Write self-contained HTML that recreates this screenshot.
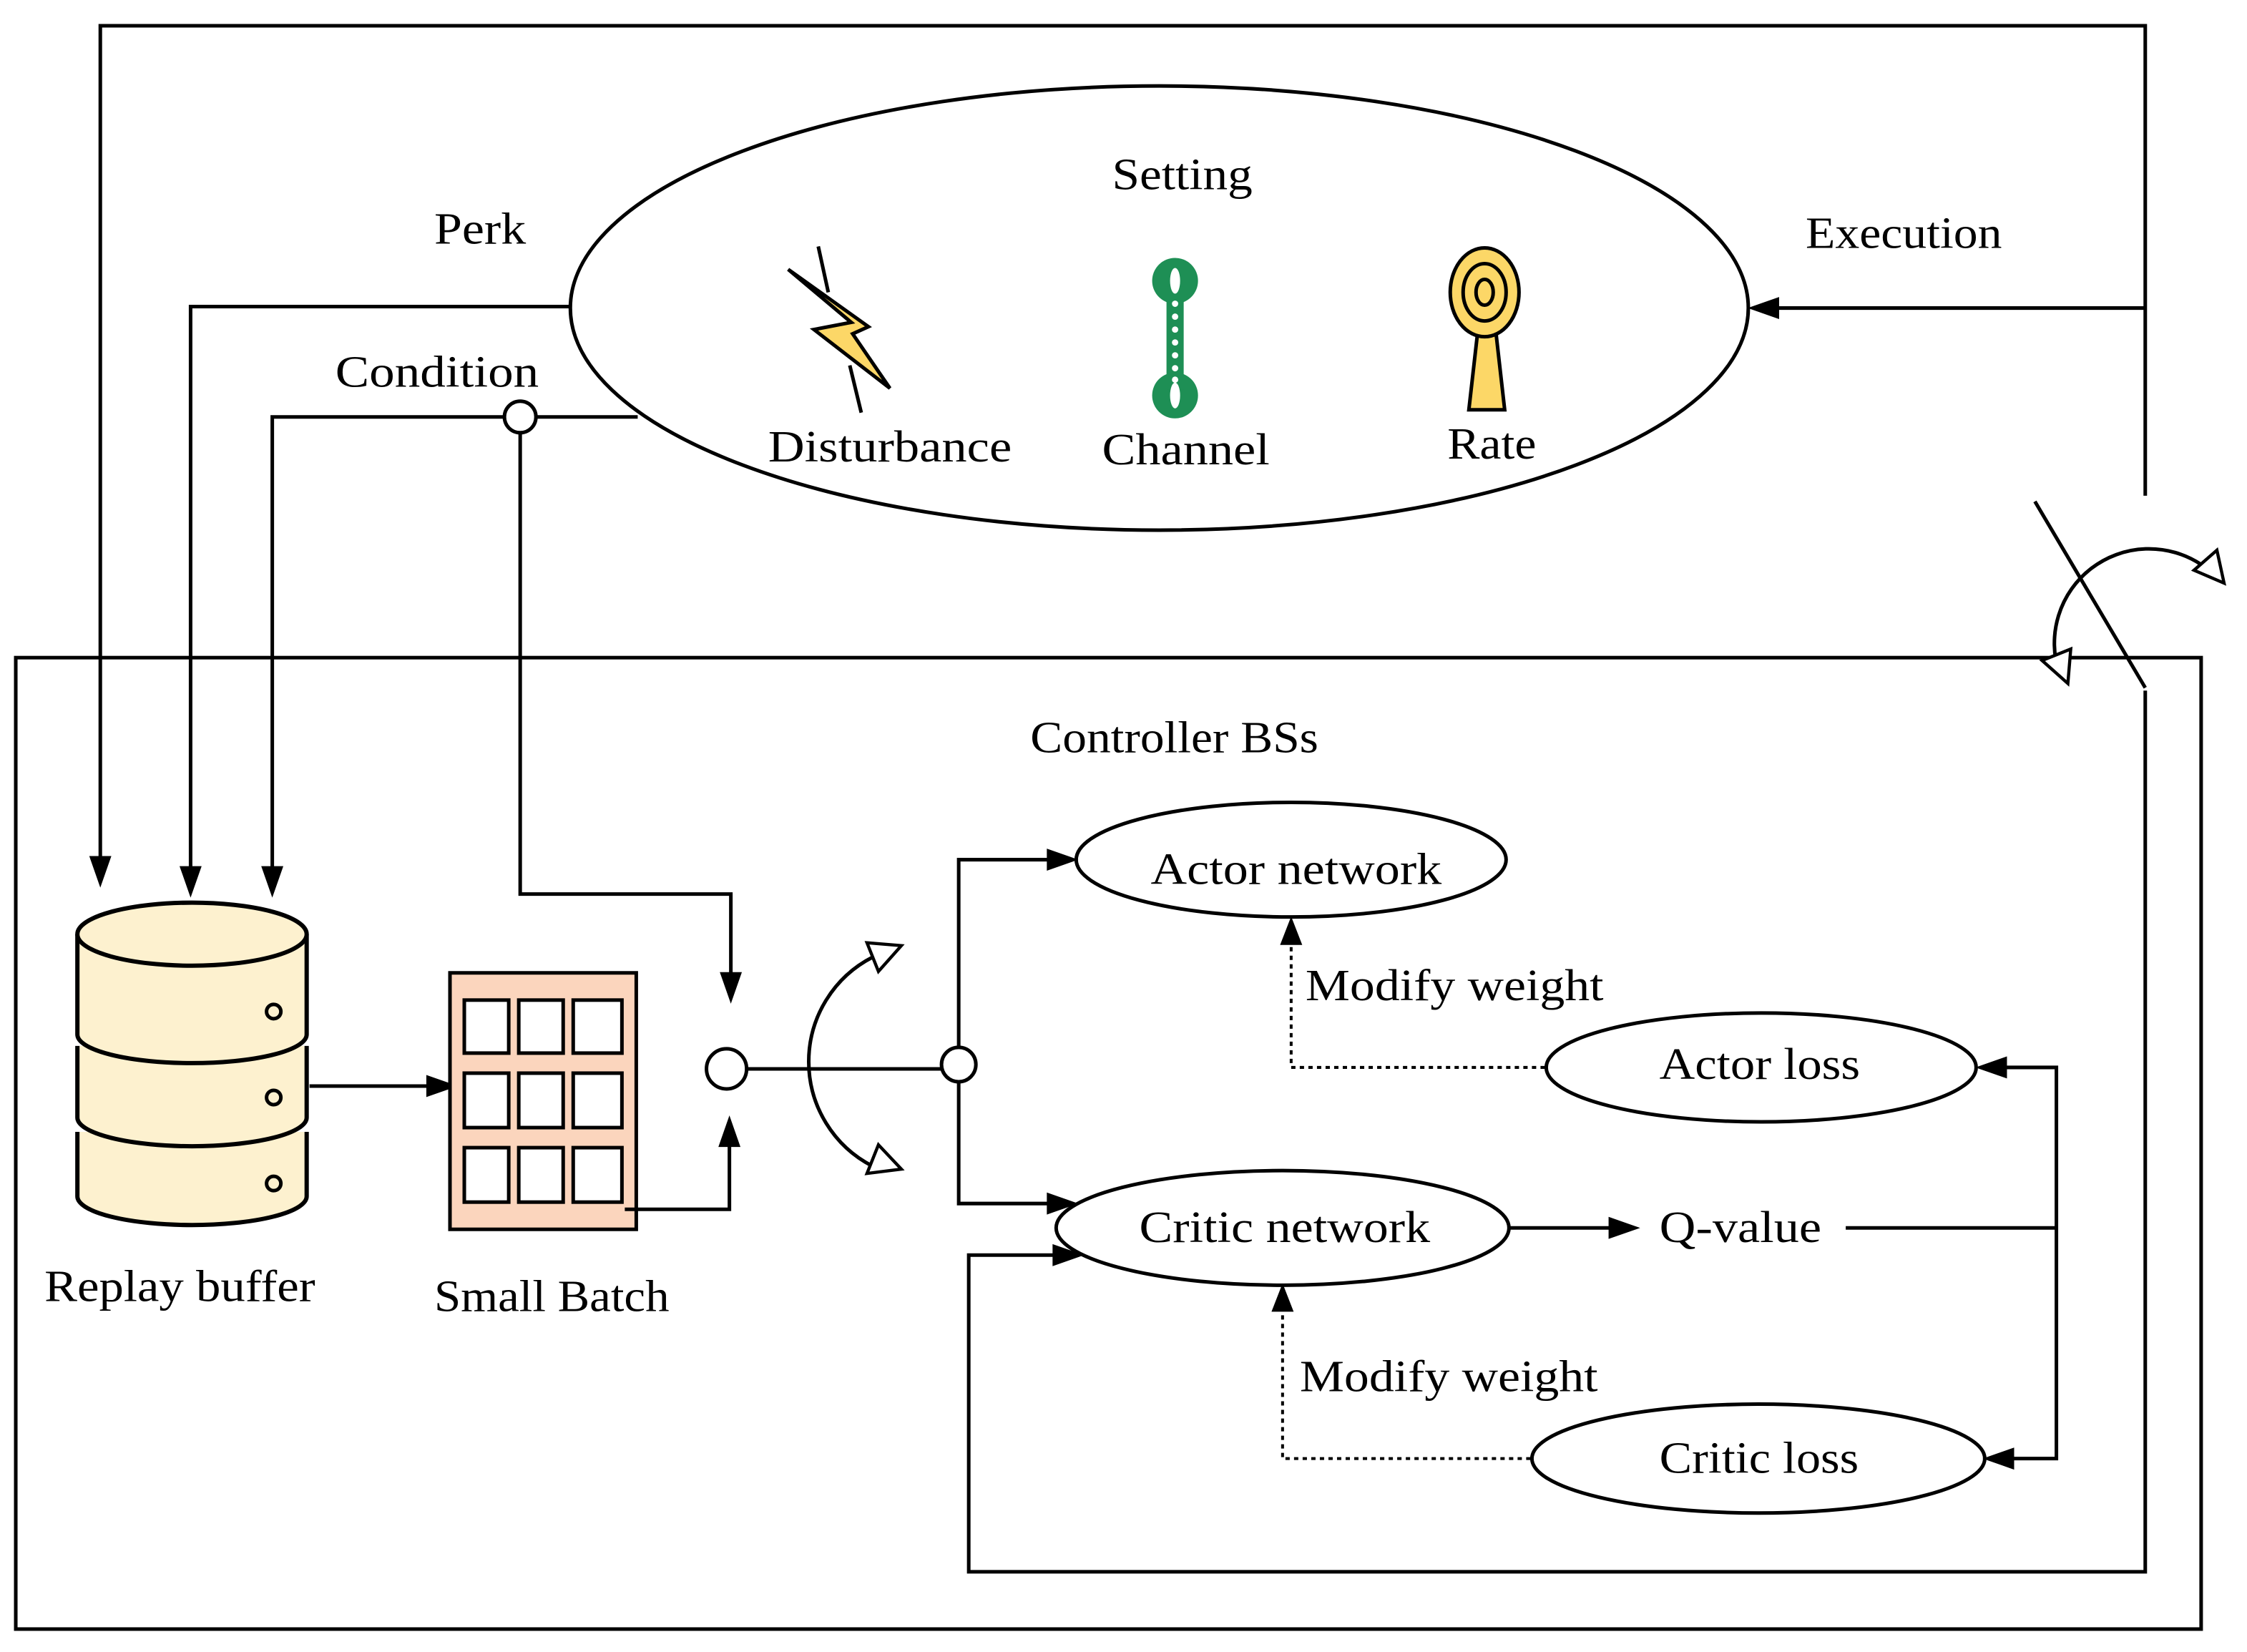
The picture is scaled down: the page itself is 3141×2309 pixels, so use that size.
<!DOCTYPE html>
<html><head><meta charset="utf-8"><style>
html,body{margin:0;padding:0;background:#fff}
svg{display:block}
text{font-family:"Liberation Serif",serif;font-size:31px;fill:#000}
</style></head><body>
<svg width="3141" height="2309" viewBox="0 0 1568 1153" preserveAspectRatio="none" xmlns="http://www.w3.org/2000/svg">
<g fill="none" stroke="#000" stroke-width="2.5">
<polyline points="70,600 70,18 1497,18 1497,346"/>
<path d="M70,618 l-7,-20 l14,0z" fill="#000" stroke-width="1"/>
<line x1="1420" y1="350" x2="1497" y2="480"/>
<polyline points="1497,482 1497,1097 676,1097 676,876 735,876"/>
<path d="M755,876 l-20,-7 l0,14z" fill="#000" stroke-width="1"/>
<line x1="1497" y1="215" x2="1240" y2="215"/>
<path d="M1221,215 l20,-7 l0,14z" fill="#000" stroke-width="1"/>
<ellipse cx="809" cy="215" rx="411" ry="155"/>
<polyline points="398,214 133,214 133,605"/>
<path d="M133,625 l-7,-20 l14,0z" fill="#000" stroke-width="1"/>
<polyline points="445,291 190,291 190,605"/>
<path d="M190,625 l-7,-20 l14,0z" fill="#000" stroke-width="1"/>
<circle cx="363" cy="291" r="11" fill="#fff"/>
<polyline points="363,302 363,624 510,624 510,680"/>
<path d="M510,699 l-7,-20 l14,0z" fill="#000" stroke-width="1"/>
<rect x="11" y="459" width="1525" height="678"/>
<!-- rotating arc top right -->
<path d="M1437,470 A66,66 0 0 1 1536,394"/>
<polygon points="1547,384 1552,407 1531,398" fill="#fff" stroke-width="2.2"/>
<polygon points="1445,453 1443,477 1425,461" fill="#fff" stroke-width="2.2"/>
<!-- replay buffer -->
<g fill="#fdf1cf" stroke-width="3">
<path d="M54,790 v45 a80,20 0 0 0 160,0 v-45"/>
<path d="M54,730 v50 a80,20 0 0 0 160,0 v-50"/>
<path d="M54,652 v70 a80,20 0 0 0 160,0 v-70"/>
<ellipse cx="134" cy="652" rx="80" ry="22"/>
</g>
<circle cx="191" cy="706" r="5"/><circle cx="191" cy="766" r="5"/><circle cx="191" cy="826" r="5"/>
<line x1="216" y1="758" x2="300" y2="758"/>
<path d="M318,758 l-20,-7 l0,14z" fill="#000" stroke-width="1"/>
<rect x="314" y="679" width="130" height="179" fill="#fbd5bd"/>
<g fill="#fff" stroke-width="2.5">
<rect x="324" y="698" width="31" height="37"/><rect x="362" y="698" width="31" height="37"/><rect x="400" y="698" width="34" height="37"/>
<rect x="324" y="749" width="31" height="38"/><rect x="362" y="749" width="31" height="38"/><rect x="400" y="749" width="34" height="38"/>
<rect x="324" y="801" width="31" height="38"/><rect x="362" y="801" width="31" height="38"/><rect x="400" y="801" width="34" height="38"/>
</g>
<polyline points="436,844 509,844 509,800"/>
<path d="M509,780 l-7,20 l14,0z" fill="#000" stroke-width="1"/>
<circle cx="507" cy="746" r="14" fill="#fff"/>
<line x1="521" y1="746" x2="657" y2="746"/>
<circle cx="669" cy="743" r="12" fill="#fff"/>
<path d="M609,668 A82,82 0 0 0 609,814"/>
<polygon points="605,658 629,660 613,678" fill="#fff" stroke-width="2.2"/>
<polygon points="613,799 629,816 605,819" fill="#fff" stroke-width="2.2"/>
<polyline points="669,731 669,600 733,600"/>
<path d="M751,600 l-20,-7 l0,14z" fill="#000" stroke-width="1"/>
<polyline points="669,755 669,840 733,840"/>
<path d="M751,840 l-20,-7 l0,14z" fill="#000" stroke-width="1"/>
<ellipse cx="901" cy="600" rx="150" ry="40"/>
<ellipse cx="1229" cy="745" rx="150" ry="38"/>
<ellipse cx="895" cy="857" rx="158" ry="40"/>
<ellipse cx="1227" cy="1018" rx="158" ry="38"/>
<line x1="1053" y1="857" x2="1124" y2="857"/>
<path d="M1143,857 l-20,-7 l0,14z" fill="#000" stroke-width="1"/>
<polyline points="1288,857 1435,857"/>
<polyline points="1398,745 1435,745 1435,1018 1403,1018"/>
<path d="M1380,745 l20,-7 l0,14z" fill="#000" stroke-width="1"/>
<path d="M1385,1018 l20,-7 l0,14z" fill="#000" stroke-width="1"/>
<polyline points="1078,745 901,745 901,658" stroke-dasharray="3,3" stroke-width="2"/>
<path d="M901,641 l-7,18 l14,0z" fill="#000" stroke-width="1"/>
<polyline points="1068,1018 895,1018 895,914" stroke-dasharray="3,3" stroke-width="2"/>
<path d="M895,897 l-7,18 l14,0z" fill="#000" stroke-width="1"/>
</g>
<!-- icons -->
<g stroke="#000" stroke-width="2.5">
<line x1="571" y1="172" x2="578" y2="204"/>
<line x1="593" y1="255" x2="601" y2="288"/>
<path d="M550,188 L606,228 L595,233 L621,271 L568,230 L594,225z" fill="#fcd767" stroke-linejoin="miter"/>
</g>
<g fill="#1e8f55">
<ellipse cx="820" cy="196" rx="16" ry="16"/><ellipse cx="820" cy="276" rx="16" ry="16"/>
<rect x="814" y="200" width="12" height="72"/>
</g>
<g fill="#fff"><ellipse cx="820" cy="196" rx="3.5" ry="9"/><ellipse cx="820" cy="276" rx="3.5" ry="9"/>
<circle cx="820" cy="212" r="2.2"/><circle cx="820" cy="221" r="2.2"/><circle cx="820" cy="230" r="2.2"/><circle cx="820" cy="239" r="2.2"/><circle cx="820" cy="248" r="2.2"/><circle cx="820" cy="257" r="2.2"/><circle cx="820" cy="265" r="2.2"/></g>
<g stroke="#000" stroke-width="2.5" fill="#fcd767">
<path d="M1031,233 L1025,286 L1050,286 L1044,233z"/>
<ellipse cx="1036" cy="204" rx="24" ry="31"/>
<ellipse cx="1036" cy="204" rx="15" ry="20"/>
<ellipse cx="1036" cy="204" rx="6" ry="9"/>
</g>
<text x="776" y="132" textLength="98" lengthAdjust="spacingAndGlyphs">Setting</text>
<text x="303" y="170" textLength="64" lengthAdjust="spacingAndGlyphs">Perk</text>
<text x="1260" y="173" textLength="137" lengthAdjust="spacingAndGlyphs">Execution</text>
<text x="234" y="270" textLength="142" lengthAdjust="spacingAndGlyphs">Condition</text>
<text x="536" y="322" textLength="170" lengthAdjust="spacingAndGlyphs">Disturbance</text>
<text x="769" y="324" textLength="117" lengthAdjust="spacingAndGlyphs">Channel</text>
<text x="1010" y="320" textLength="62" lengthAdjust="spacingAndGlyphs">Rate</text>
<text x="719" y="525" textLength="201" lengthAdjust="spacingAndGlyphs">Controller BSs</text>
<text x="803" y="617" textLength="203" lengthAdjust="spacingAndGlyphs">Actor network</text>
<text x="911" y="698" textLength="208" lengthAdjust="spacingAndGlyphs">Modify weight</text>
<text x="1158" y="753" textLength="140" lengthAdjust="spacingAndGlyphs">Actor loss</text>
<text x="795" y="867" textLength="203" lengthAdjust="spacingAndGlyphs">Critic network</text>
<text x="1158" y="867" textLength="113" lengthAdjust="spacingAndGlyphs">Q-value</text>
<text x="907" y="971" textLength="208" lengthAdjust="spacingAndGlyphs">Modify weight</text>
<text x="1158" y="1028" textLength="139" lengthAdjust="spacingAndGlyphs">Critic loss</text>
<text x="31" y="908" textLength="189" lengthAdjust="spacingAndGlyphs">Replay buffer</text>
<text x="303" y="915" textLength="164" lengthAdjust="spacingAndGlyphs">Small Batch</text>
</svg>
</body></html>
